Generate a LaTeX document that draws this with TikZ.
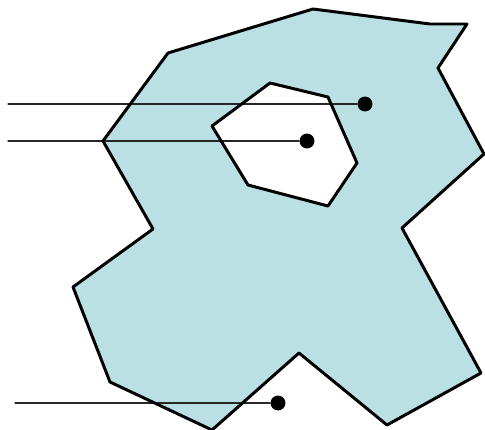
\documentclass[tikz,border=0pt]{standalone}
\usetikzlibrary{positioning}
\definecolor{regionfill}{RGB}{186,224,228}
\begin{document}
\begin{tikzpicture}
% region with a hole and three query points
\def\pxsz{0.02cm}
\providecommand{\regionLineWidth}{1.7pt}
\providecommand{\rayLineWidth}{0.6pt}
\tikzset{
  querypt/.style={circle, fill=black, inner sep=0pt, minimum size=8.5pt},
  raystub/.style={draw=black!85, line width=\rayLineWidth},
}
\begin{scope}[x=\pxsz, y=-\pxsz, line cap=round, line join=round]
  \useasboundingbox (0,0) rectangle (485,430);
  % Filled region, hole cut out with even odd rule
  \path[fill=regionfill, even odd rule]
    (313,9) -- (430,24) -- (467,24) -- (438,68) -- (484,154) -- (402,228)
    -- (481,373) -- (387,425) -- (299,353) -- (212,430) -- (110,382)
    -- (73,287) -- (153,229) -- (103,141) -- (168,53) -- cycle
    (270,83) -- (328,97) -- (357,163) -- (328,206) -- (248,185) -- (212,126) -- cycle;
  % Query points
  \node[querypt] (p1) at (365,104) {};
  \node[querypt] (p2) at (307,141) {};
  \node[querypt] (p3) at (278,403) {};
  \coordinate (s1) at (8,104);
  \coordinate (s2) at (8,141);
  \coordinate (s3) at (15,403);
  % Rays
  \draw[raystub] (s1) -- (p1);
  \draw[raystub] (s2) -- (p2);
  \draw[raystub] (s3) -- (p3);
  % Outer boundary
  \draw[line width=\regionLineWidth]
    (313,9) -- (430,24) -- (467,24) -- (438,68) -- (484,154) -- (402,228)
    -- (481,373) -- (387,425) -- (299,353) -- (212,430) -- (110,382)
    -- (73,287) -- (153,229) -- (103,141) -- (168,53) -- cycle;
  % Hole boundary
  \draw[line width=\regionLineWidth]
    (270,83) -- (328,97) -- (357,163) -- (328,206) -- (248,185) -- (212,126) -- cycle;
\end{scope}
\end{tikzpicture}
\end{document}
